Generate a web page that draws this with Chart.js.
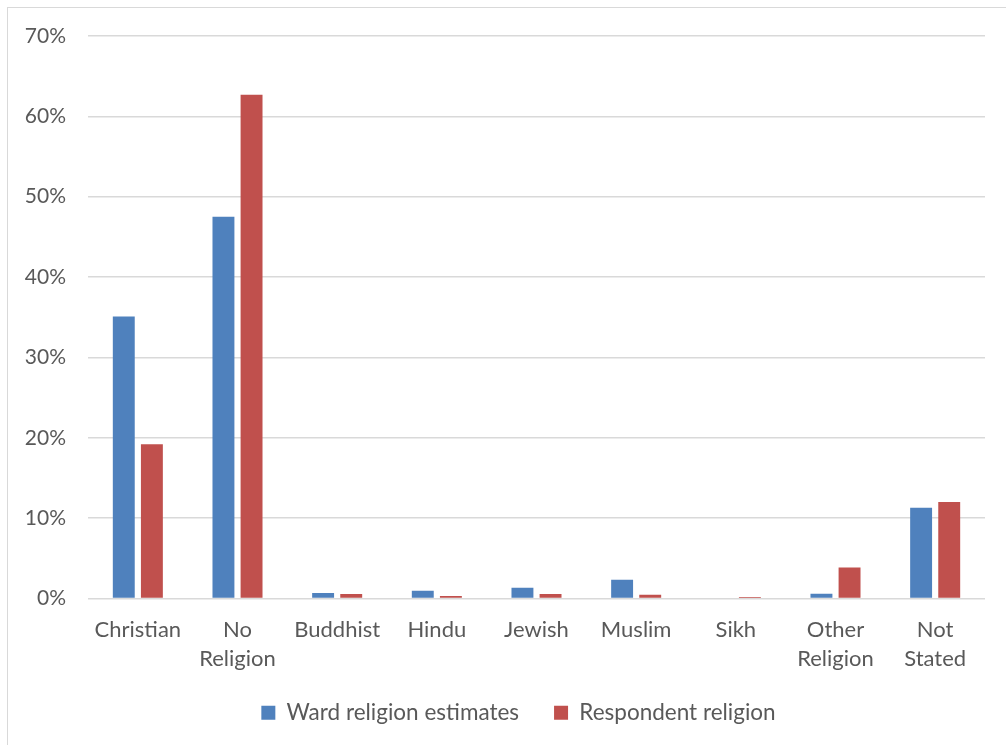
<!DOCTYPE html>
<html>
<head>
<meta charset="utf-8">
<script src="https://cdn.jsdelivr.net/npm/chart.js@4/dist/chart.umd.min.js"></script>
<style>
  html, body { margin: 0; padding: 0; background: #fff; }
  #wrap { position: relative; width: 1006px; height: 745px; overflow: hidden; }
  #frame { position: absolute; left: 7px; top: 7px; width: 1020px; height: 760px; border: 1px solid #d9d9d9; box-sizing: border-box; }
  canvas { position: absolute; left: 0; top: 0; }
</style>
</head>
<body>
<div id="wrap">
  <div id="frame"></div>
  <canvas id="c" width="1006" height="745"></canvas>
</div>
<script>
const categories = ["Christian", ["No", "Religion"], "Buddhist", "Hindu", "Jewish", "Muslim", "Sikh", ["Other", "Religion"], ["Not", "Stated"]];
const seriesNames = ["Ward religion estimates", "Respondent religion"];
const wardValues = [35.1, 47.5, 0.67, 0.96, 1.33, 2.33, 0, 0.58, 11.3];
const respondentValues = [19.2, 62.7, 0.55, 0.3, 0.55, 0.46, 0.2, 3.87, 12.0];
const yTicks = [0, 10, 20, 30, 40, 50, 60, 70];

const FONT = "Lato, 'Open Sans', sans-serif";
const TXT = "#595959";

const legendShift = {
  id: "legendShift",
  afterLayout(chart) {
    const lg = chart.legend;
    if (lg) { lg.left += 26; lg.right += 26; lg.top -= 4; lg.bottom -= 4; }
  }
};

new Chart(document.getElementById("c"), {
  type: "bar",
  data: {
    labels: categories,
    datasets: [
      { label: seriesNames[0], data: wardValues, backgroundColor: "#4F81BD", categoryPercentage: 0.564, barPercentage: 0.78 },
      { label: seriesNames[1], data: respondentValues, backgroundColor: "#C0504D", categoryPercentage: 0.564, barPercentage: 0.78 }
    ]
  },
  plugins: [legendShift],
  options: {
    responsive: false,
    animation: false,
    layout: { padding: { top: 36, right: 21, left: 0, bottom: 7 } },
    plugins: {
      tooltip: { enabled: false },
      legend: {
        position: "bottom",
        labels: {
          color: TXT,
          font: { family: FONT, size: 22.5 },
          boxWidth: 14, boxHeight: 14,
          padding: 35
        }
      }
    },
    scales: {
      x: {
        grid: { display: false },
        border: { display: false },
        ticks: { color: TXT, font: { family: FONT, size: 22, lineHeight: 1.32 }, padding: 9, maxRotation: 0, autoSkip: false },
        afterFit: (s) => { s.height = 72; }
      },
      y: {
        min: 0, max: 70,
        afterBuildTicks: (s) => { s.ticks = yTicks.map(v => ({ value: v })); },
        grid: { color: "#d9d9d9", lineWidth: 1.5, drawTicks: false },
        border: { display: false },
        ticks: { color: TXT, font: { family: FONT, size: 21 }, padding: 22, callback: (v) => v + "%" },
        afterFit: (s) => { s.width = 88; }
      }
    }
  }
});
</script>
</body>
</html>
